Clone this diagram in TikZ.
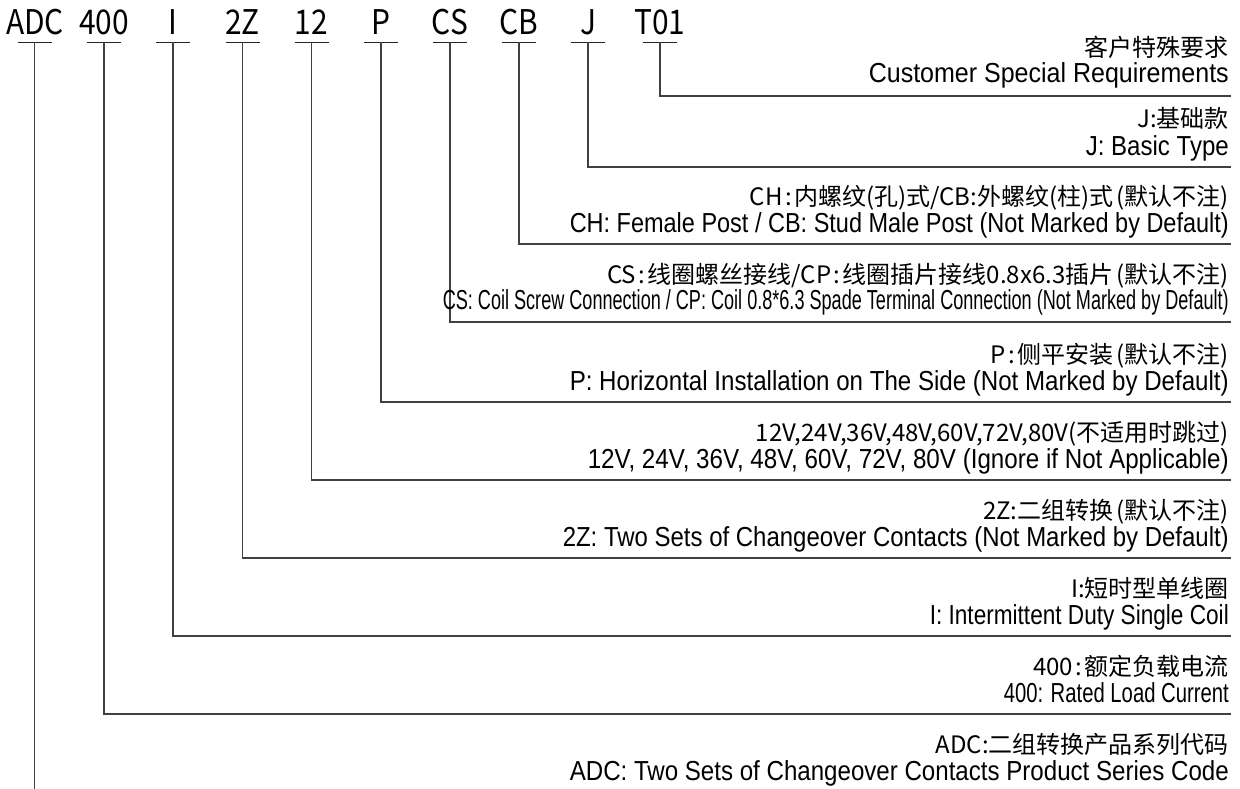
\documentclass[tikz,border=0pt]{standalone}
\usepackage{fontspec}
\usepackage{graphicx}
\setmainfont{Liberation Sans}
\newfontfamily\cjk{Noto Sans CJK SC}
\newfontfamily\cjkcode[FakeStretch=0.88]{Noto Sans CJK SC}
\newcommand{\fitx}[2]{\resizebox{#1}{\height}{#2}}
\newcommand{\zcol}{\hspace{2.5pt}:\hspace{2.5pt}}
\newcommand{\zpar}[1]{\hspace{3pt}(#1)}
\begin{document}
\begin{tikzpicture}[x=1pt,y=-1pt,
  code/.style={font=\cjkcode\fontsize{34}{34}\selectfont, anchor=base, inner sep=0pt},
  zh/.style={font=\cjk\fontsize{24}{24}\selectfont, anchor=base east, inner sep=0pt},
  en/.style={font=\fontsize{27.5}{27.5}\selectfont, anchor=base east, inner sep=0pt},
  bar/.style={line width=1.4pt, black!85},
  lead/.style={line width=1.5pt, black!75}]
\useasboundingbox (0,0) rectangle (1240,789);

% codes
\node[code] (c1) at (35,35) {ADC};
\node[code] (c2) at (104,35) {400};
\node[code] (c3) at (173,35) {I};
\node[code] (c4) at (242.5,35) {2Z};
\node[code] (c5) at (311.5,35) {12};
\node[code] (c6) at (381,35) {P};
\node[code] (c7) at (450,35) {CS};
\node[code] (c8) at (519,35) {CB};
\node[code] (c9) at (588,35) {J};
\node[code] (c10) at (660,35) {T01};

% bars and lead coordinates
\foreach \i/\xx in {1/34.5,2/104,3/173,4/242.5,5/311.5,6/381,7/450,8/519,9/588,10/660}{
  \coordinate (t\i) at (\xx,42.5);
  \draw[bar] (\xx-17,42.5) -- (\xx+17,42.5);
}
\coordinate (e10) at (1231,96);
\coordinate (e9) at (1231,167);
\coordinate (e8) at (1231,244);
\coordinate (e7) at (1231,322);
\coordinate (e6) at (1231,402);
\coordinate (e5) at (1231,480);
\coordinate (e4) at (1231,558);
\coordinate (e3) at (1231,636);
\coordinate (e2) at (1231,714);
\coordinate (e1) at (34.5,789);

\foreach \i in {2,...,10}{ \draw[lead] (t\i) |- (e\i); }
\draw[lead] (t1) -- (e1);

% labels
\node[zh] (z10) at (1229,57) {客户特殊要求};
\node[en] (n10) at (1229,83) {\fitx{360pt}{Customer Special Requirements}};

\node[zh] (z9) at (1229,128) {J:基础款};
\node[en] (n9) at (1229,155) {\fitx{143pt}{J: Basic Type}};

\node[zh] (z8) at (1229,205) {CH\zcol 内螺纹(孔)式/CB:外螺纹(柱)式\zpar{默认不注}};
\node[en] (n8) at (1229,232) {\fitx{659pt}{CH: Female Post / CB: Stud Male Post (Not Marked by Default)}};

\node[zh] (z7) at (1229,283) {CS\zcol 线圈螺丝接线/CP\zcol 线圈插片接线0.8x6.3插片\zpar{默认不注}};
\node[en] (n7) at (1229,309) {\fitx{786pt}{CS: Coil Screw Connection / CP: Coil 0.8*6.3 Spade Terminal Connection (Not Marked by Default)}};

\node[zh] (z6) at (1229,363) {P\zcol 侧平安装\zpar{默认不注}};
\node[en] (n6) at (1229,390) {\fitx{659pt}{P: Horizontal Installation on The Side (Not Marked by Default)}};

\node[zh] (z5) at (1229,441) {12V,24V,36V,48V,60V,72V,80V(不适用时跳过)};
\node[en] (n5) at (1229,468) {\fitx{641pt}{12V, 24V, 36V, 48V, 60V, 72V, 80V (Ignore if Not Applicable)}};

\node[zh] (z4) at (1229,519) {2Z:二组转换\zpar{默认不注}};
\node[en] (n4) at (1229,546) {\fitx{666pt}{2Z: Two Sets of Changeover Contacts (Not Marked by Default)}};

\node[zh] (z3) at (1229,597) {I:短时型单线圈};
\node[en] (n3) at (1229,624) {\fitx{299pt}{I: Intermittent Duty Single Coil}};

\node[zh] (z2) at (1229,675) {400\zcol 额定负载电流};
\node[en] (n2) at (1229,702) {\fitx{225pt}{400: Rated Load Current}};

\node[zh] (z1) at (1229,753) {ADC:二组转换产品系列代码};
\node[en] (n1) at (1229,780) {\fitx{659pt}{ADC: Two Sets of Changeover Contacts Product Series Code}};
\end{tikzpicture}
\end{document}
